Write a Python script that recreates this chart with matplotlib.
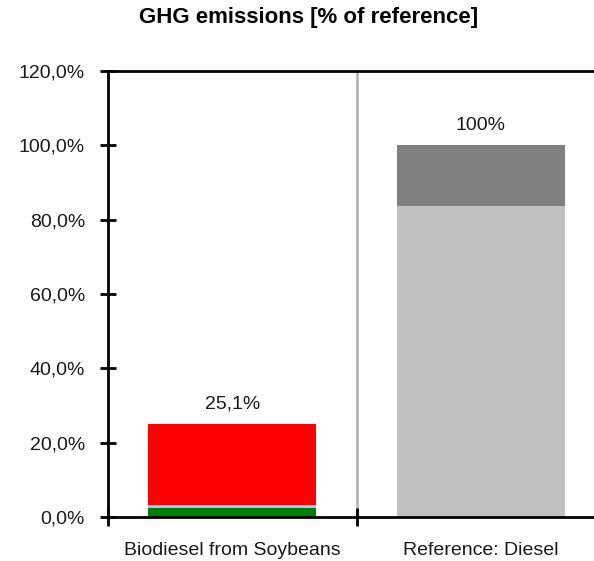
import matplotlib.pyplot as plt
import numpy as np

plt.rcParams['font.family'] = ['Liberation Sans', 'DejaVu Sans']

categories = ["Biodiesel from Soybeans", "Reference: Diesel"]
# stacked segments (bottom to top), in % of reference
green = [2.4, 0.0]
lightblue = [0.8, 0.0]
red = [21.9, 0.0]
ref_light = [0.0, 83.7]
ref_dark = [0.0, 16.3]
totals = ["25,1%", "100%"]
total_vals = [25.1, 100.0]

fig = plt.figure(figsize=(5.94, 5.61), dpi=100)
ax = fig.add_axes([108 / 594, 1 - 517 / 561, (605 - 108) / 594, (517 - 71) / 561])

x = np.arange(len(categories))
w = 0.675
bottom = np.zeros(len(categories))
for vals, col in [(green, "#008000"), (lightblue, "#99ccff"), (red, "#ff0000"),
                  (ref_light, "#c0c0c0"), (ref_dark, "#808080")]:
    ax.bar(x, vals, width=w, bottom=bottom, color=col, edgecolor="none", zorder=2)
    bottom += np.array(vals)

for xi, lab, v in zip(x, totals, total_vals):
    ax.text(xi, v + 3.0, lab, ha="center", va="bottom", fontsize=14, color="#1a1a1a")

ax.set_xlim(-0.5, 1.5)
ax.set_ylim(0, 120)
ax.set_yticks(np.arange(0, 121, 20))
ax.set_yticklabels([f"{v:.1f}%".replace(".", ",") for v in np.arange(0, 121, 20)])
ax.axvline(0.5, color="#b0b0b0", lw=1.8, zorder=1)

ax.set_xticks([-0.5, 0.5, 1.5])
ax.set_xticklabels([])
ax.set_xticks(x, minor=True)
ax.set_xticklabels(categories, minor=True)
ax.tick_params(axis="x", which="minor", length=0, pad=18, labelsize=14)
ax.tick_params(axis="x", which="major", direction="inout", length=13, width=2)
ax.tick_params(axis="y", direction="inout", length=11, width=2, labelsize=14, pad=11)
for lab in ax.get_xticklabels(minor=True) + ax.get_yticklabels():
    lab.set_color("#1a1a1a")
for s in ax.spines.values():
    s.set_linewidth(2)

fig.text(309 / 594, 1 - 18 / 561, "GHG emissions [% of reference]", ha="center", va="center",
         fontsize=16, fontweight="bold")

fig.savefig("out.png", dpi=100)
